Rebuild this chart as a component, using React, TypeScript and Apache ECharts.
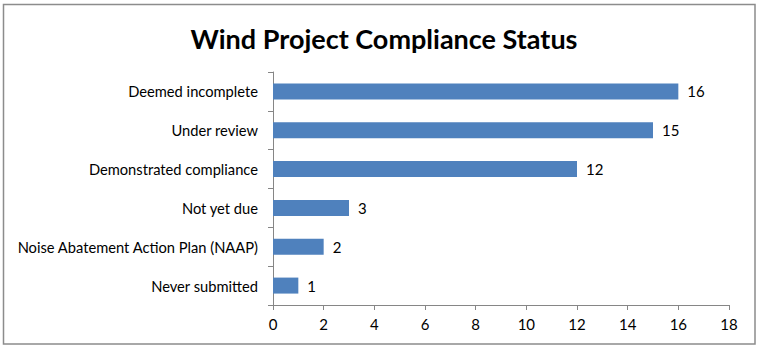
import React, { useEffect, useRef } from "react";
import * as echarts from "echarts";

const categories = [
  "Deemed incomplete",
  "Under review",
  "Demonstrated compliance",
  "Not yet due",
  "Noise Abatement Action Plan (NAAP)",
  "Never submitted",
];
const values = [16, 15, 12, 3, 2, 1];
const xTicks = { min: 0, max: 18, interval: 2 };
const title = "Wind Project Compliance Status";

export default function App() {
  const ref = useRef<HTMLDivElement>(null);
  useEffect(() => {
    const chart = echarts.init(ref.current!, null, { renderer: "svg" });
    const font = "Lato, 'Open Sans', sans-serif";
    chart.setOption({
      animation: false,
      backgroundColor: "#ffffff",
      title: {
        text: title,
        left: "center",
        top: 20,
        textStyle: { fontFamily: font, fontWeight: "bold", fontSize: 27, color: "#000" },
      },
      graphic: [
        {
          type: "rect",
          shape: { x: 3.5, y: 4.5, width: 751.5, height: 339.5 },
          style: { fill: "none", stroke: "#8c8c8c", lineWidth: 1.5 },
          silent: true,
        },
      ],
      grid: { left: 273, right: 39, top: 72, bottom: 48 },
      xAxis: {
        type: "value",
        min: xTicks.min,
        max: xTicks.max,
        interval: xTicks.interval,
        splitLine: { show: false },
        axisLine: { show: true, lineStyle: { color: "#868686", width: 1 } },
        axisTick: { show: true, length: 5, lineStyle: { color: "#868686" } },
        axisLabel: { fontFamily: font, fontSize: 15, color: "#000", margin: 11 },
      },
      yAxis: {
        type: "category",
        data: categories,
        inverse: true,
        axisLine: { show: true, lineStyle: { color: "#868686", width: 1 } },
        axisTick: { show: true, length: 5, lineStyle: { color: "#868686" } },
        axisLabel: { fontFamily: font, fontSize: 14.7, color: "#000", margin: 15 },
      },
      series: [
        {
          type: "bar",
          data: values,
          barWidth: 16,
          itemStyle: { color: "#4F81BD" },
          label: {
            show: true,
            position: "right",
            distance: 9,
            fontFamily: font,
            fontSize: 15,
            color: "#000",
          },
        },
      ],
    });
    return () => chart.dispose();
  }, []);
  return (
    <div
      ref={ref}
      style={{ position: "fixed", left: 0, top: 0, width: 768, height: 353 }}
    />
  );
}
